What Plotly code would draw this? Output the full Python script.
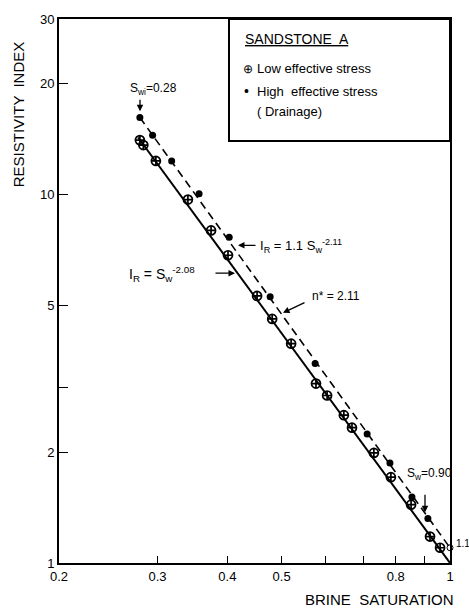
import plotly.graph_objects as go

# Low effective stress (open circle with cross)
sw_low = [0.279, 0.283, 0.298, 0.340, 0.374, 0.401, 0.452, 0.481, 0.520, 0.576,
          0.603, 0.646, 0.668, 0.731, 0.784, 0.852, 0.921, 0.960]
ir_low = [14.07, 13.64, 12.35, 9.70, 8.00, 6.85, 5.31, 4.60, 3.94, 3.07,
          2.85, 2.52, 2.33, 1.99, 1.71, 1.44, 1.18, 1.10]

# High effective stress (Drainage) (filled dots)
sw_high = [0.279, 0.294, 0.318, 0.356, 0.403, 0.477, 0.574, 0.711, 0.781, 0.855, 0.913]
ir_high = [16.2, 14.5, 12.35, 10.06, 7.66, 5.28, 3.48, 2.24, 1.87, 1.51, 1.32]

# Fitted lines (end points)
fit_low_sw = [0.277, 1.0]
fit_low_ir = [14.3, 1.0]
fit_high_sw = [0.279, 1.046]
fit_high_ir = [16.2, 1.0]

# Intercept marker
icpt_sw = [1.0]
icpt_ir = [1.1]

xtick_vals = [0.2, 0.3, 0.4, 0.5, 0.6, 0.7, 0.8, 0.9, 1.0]
xtick_text = ["0.2", "0.3", "0.4", "0.5", "", "", "0.8", "", "1"]
ytick_vals = [1, 2, 3, 5, 10, 20, 30]
ytick_text = ["1", "2", "", "5", "10", "20", "30"]

FONT = "Liberation Sans"

fig = go.Figure()
fig.add_trace(go.Scatter(x=fit_low_sw, y=fit_low_ir, mode="lines",
                         line=dict(color="black", width=2), showlegend=False))
fig.add_trace(go.Scatter(x=fit_high_sw, y=fit_high_ir, mode="lines",
                         line=dict(color="black", width=1.6, dash="8px,5px"), showlegend=False))
fig.add_trace(go.Scatter(x=sw_low, y=ir_low, mode="markers",
                         marker=dict(symbol="circle-cross-open", size=9, color="black",
                                     line=dict(width=1.7, color="black")),
                         name="Low effective stress", showlegend=False))
fig.add_trace(go.Scatter(x=sw_high, y=ir_high, mode="markers",
                         marker=dict(symbol="circle", size=7, color="black"),
                         name="High effective stress (Drainage)", showlegend=False))
fig.add_trace(go.Scatter(x=icpt_sw, y=icpt_ir, mode="markers", cliponaxis=False,
                         marker=dict(symbol="circle-open", size=6, color="black",
                                     line=dict(width=1)),
                         showlegend=False))

L, R, T, B = 59, 450, 15, 563
W, H = 469, 611


def px(x):
    return (x - L) / (R - L)


def py(y):
    return (B - y) / (B - T)


ann = []


def text(x, y, s, size=13, xanchor="center", yanchor="middle", angle=0):
    ann.append(dict(x=px(x), y=py(y), xref="paper", yref="paper", text=s, showarrow=False,
                    xanchor=xanchor, yanchor=yanchor, textangle=angle,
                    font=dict(family=FONT, size=size, color="black")))


def arrow(x0, y0, x1, y1):
    # tail (x0,y0) -> head (x1,y1) in pixels
    ann.append(dict(x=px(x1), y=py(y1), xref="paper", yref="paper", text="",
                    showarrow=True, ax=x0 - x1, ay=y0 - y1, axref="pixel", ayref="pixel",
                    arrowhead=2, arrowsize=1, arrowwidth=1.3, arrowcolor="black"))


# Axis titles
text(18, 111, "RESISTIVITY  INDEX", size=15, angle=-90)
text(456, 600, "BRINE  SATURATION", size=15, xanchor="right")

# Legend box contents
text(243, 35, "<u>SANDSTONE  A</u>", size=14, xanchor="left")
text(241, 65, "⊕", size=12, xanchor="left")
text(255, 65, "Low effective stress", size=13, xanchor="left")
text(242, 88, "•", size=14, xanchor="left")
text(255, 88, "High  effective stress", size=13, xanchor="left")
text(255, 108, "( Drainage)", size=13, xanchor="left")

# Swi label
text(128, 86, "S<sub>wi</sub>=0.28", size=12, xanchor="left")
arrow(140, 95, 140, 108)

# IR = 1.1 Sw^-2.11
arrow(257, 243, 238, 243)
text(258, 244, "I<sub>R</sub> = 1.1 S<sub>w</sub><sup>-2.11</sup>", size=13, xanchor="left")

# IR = Sw^-2.08
text(127, 272, "I<sub>R</sub> = S<sub>w</sub><sup>-2.08</sup>", size=14, xanchor="left")
arrow(214, 271, 235, 271)

# n* = 2.11
text(310, 294, "n* = 2.11", size=12, xanchor="left")
arrow(306, 300, 283, 311)

# Sw = 0.90
text(405, 473, "S<sub>w</sub>=0.90", size=12, xanchor="left")
arrow(425, 493, 425, 512)

# 1.1 intercept label
text(454, 543, "1.1", size=10, xanchor="left")

fig.update_layout(
    width=W, height=H,
    margin=dict(l=L, r=W - R, t=T, b=H - B),
    paper_bgcolor="white", plot_bgcolor="white",
    annotations=ann,
    shapes=[dict(type="rect", xref="paper", yref="paper",
                 x0=px(229), x1=1, y0=py(138), y1=1,
                 line=dict(color="black", width=2), fillcolor="white", layer="below")],
    font=dict(family=FONT, color="black"),
)
fig.update_xaxes(type="log", range=[-0.69897, 0], tickvals=xtick_vals, ticktext=xtick_text,
                 ticks="inside", ticklen=7, tickwidth=1.3, tickcolor="black",
                 showline=True, linecolor="black", linewidth=2, mirror=True,
                 showgrid=False, zeroline=False,
                 tickfont=dict(family=FONT, size=13, color="black"))
fig.update_yaxes(type="log", range=[0, 1.47712], tickvals=ytick_vals, ticktext=ytick_text,
                 ticks="inside", ticklen=9, tickwidth=1.3, tickcolor="black",
                 showline=True, linecolor="black", linewidth=2, mirror=True,
                 showgrid=False, zeroline=False,
                 tickfont=dict(family=FONT, size=13, color="black"))

fig.write_html("out.html")
